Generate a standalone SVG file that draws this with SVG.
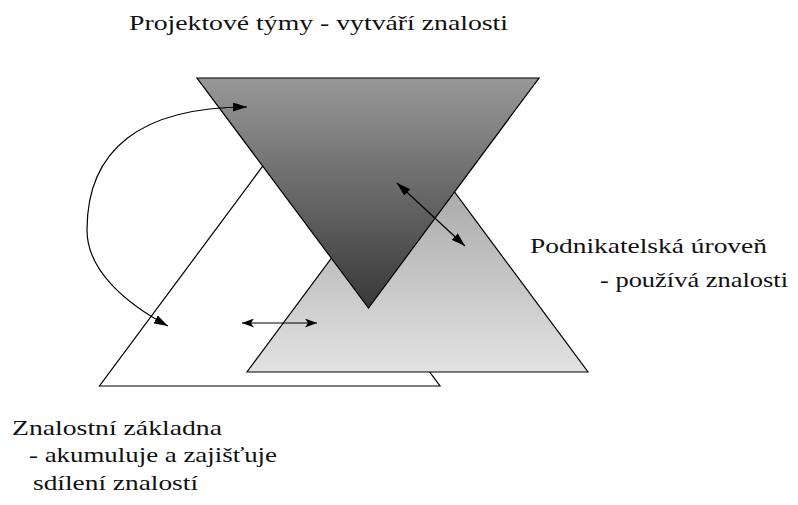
<svg xmlns="http://www.w3.org/2000/svg" width="798" height="505" viewBox="0 0 798 505" font-family="Liberation Serif, serif">
<style>
.tri{stroke:#000;stroke-width:1.2;stroke-linejoin:miter}
.lbl{font-size:21px;fill:#111}
.con{fill:none;stroke:#000;stroke-width:1.2}
</style>
<defs>
<linearGradient id="gDark" gradientUnits="userSpaceOnUse" x1="0" y1="78" x2="0" y2="308">
<stop offset="0" stop-color="#989898"/>
<stop offset="1" stop-color="#383838"/>
</linearGradient>
<linearGradient id="gLight" gradientUnits="userSpaceOnUse" x1="0" y1="142" x2="0" y2="372">
<stop offset="0" stop-color="#9c9c9c"/>
<stop offset="1" stop-color="#e2e2e2"/>
</linearGradient>
<marker id="head" viewBox="0 0 14 9" refX="14" refY="4.5" markerWidth="14" markerHeight="9" markerUnits="userSpaceOnUse" orient="auto-start-reverse">
<path d="M0,0 L14,4.5 L0,9 z" fill="#000"/>
</marker>
<marker id="barb" viewBox="0 0 12 9" refX="12" refY="4.5" markerWidth="12" markerHeight="9" markerUnits="userSpaceOnUse" orient="auto-start-reverse">
<path d="M0,0 L12,4.5 L0,9 L3,4.5 z" fill="#000"/>
</marker>
</defs>
<rect width="798" height="505" fill="#fff"/>
<g id="node-znalostni-zakladna">
<polygon class="tri" points="99.5,386 440,386 269.5,157" fill="#fff"/>
<text class="lbl" font-family="Liberation Serif, serif" x="12" y="435" textLength="210" lengthAdjust="spacingAndGlyphs">Znalostní základna</text>
<text class="lbl" font-family="Liberation Serif, serif" x="29" y="462" textLength="248" lengthAdjust="spacingAndGlyphs">- akumuluje a zajišťuje</text>
<text class="lbl" font-family="Liberation Serif, serif" x="33" y="490" textLength="165" lengthAdjust="spacingAndGlyphs">sdílení znalostí</text>
</g>
<g id="node-podnikatelska-uroven">
<polygon class="tri" points="247,372 588,372 417.5,142" fill="url(#gLight)"/>
<text class="lbl" font-family="Liberation Serif, serif" x="530" y="253" textLength="237" lengthAdjust="spacingAndGlyphs">Podnikatelská úroveň</text>
<text class="lbl" font-family="Liberation Serif, serif" x="600" y="287" textLength="188" lengthAdjust="spacingAndGlyphs">- používá znalosti</text>
</g>
<g id="node-projektove-tymy">
<polygon class="tri" points="197,78 539,78 368.5,308" fill="url(#gDark)"/>
<text class="lbl" font-family="Liberation Serif, serif" x="129" y="30" textLength="379" lengthAdjust="spacingAndGlyphs">Projektové týmy - vytváří znalosti</text>
</g>
<g id="connectors">
<path class="con" d="M168,326 C125,303 87,270 87,230 C87,150 140,107 247,107" marker-start="url(#head)" marker-end="url(#head)"/>
<line class="con" x1="242" y1="323" x2="317" y2="323" marker-start="url(#barb)" marker-end="url(#barb)"/>
<line class="con" x1="397" y1="183" x2="465" y2="246" marker-start="url(#head)" marker-end="url(#head)"/>
</g>
</svg>
